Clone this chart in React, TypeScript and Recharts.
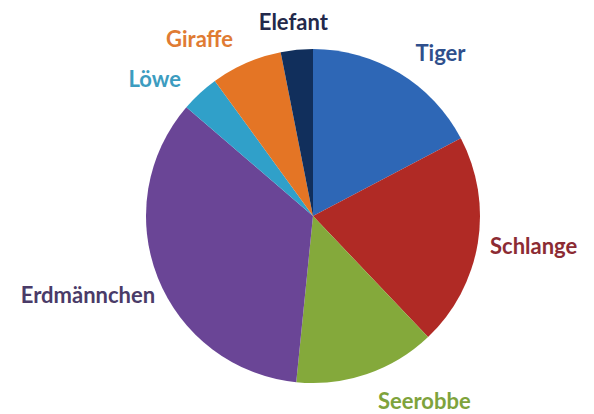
import { PieChart, Pie, Cell } from 'recharts';

const tiere = ['Tiger', 'Schlange', 'Seerobbe', 'Erdmännchen', 'Löwe', 'Giraffe', 'Elefant'];
const anteile = [17.3, 20.6, 13.7, 34.7, 3.7, 6.9, 3.1];
const farben = ['#2e67b6', '#b02a25', '#84a93b', '#6a4596', '#30a0c9', '#e47525', '#112f5c'];
const textFarben = ['#2f4f8c', '#8c2b33', '#7ea33c', '#4a3b68', '#3c9cc0', '#e07b33', '#23294b'];

const data = tiere.map((name, i) => ({ name, wert: anteile[i] }));

const RAD = Math.PI / 180;

function renderLabel(props: any) {
  const { cx, cy, midAngle, outerRadius, index, name } = props;
  const cos = Math.cos(-midAngle * RAD);
  const sin = Math.sin(-midAngle * RAD);
  const r = outerRadius + 8 + 27 * Math.abs(sin);
  const x = cx + r * cos - (cos < -0.9 ? -14 : 0);
  // kleine Korrekturen, damit die Beschriftungen wie im Original sitzen
  const y = cy + r * sin + (sin < 0 ? 6 : 0) + (cos < -0.9 ? 10 : 0) + (sin > 0.5 ? -5 : 0);
  const anchor = cos > 0.3 ? 'start' : cos < -0.3 ? 'end' : 'middle';
  return (
    <text
      x={x}
      y={y}
      textAnchor={anchor}
      dominantBaseline="central"
      fill={textFarben[index]}
      fontFamily="Lato, sans-serif"
      fontWeight="bold"
      fontSize={22}
    >
      {name}
    </text>
  );
}

export default function App() {
  return (
    <div style={{ position: 'absolute', left: 0, top: 0, width: 594, height: 414, background: '#fff' }}>
      <PieChart width={594} height={414} margin={{ top: 0, right: 0, bottom: 0, left: 0 }}>
        <Pie
          data={data}
          dataKey="wert"
          nameKey="name"
          cx={313}
          cy={216}
          outerRadius={167}
          startAngle={90}
          endAngle={-270}
          stroke="none"
          label={renderLabel}
          labelLine={false}
          isAnimationActive={false}
        >
          {data.map((d, i) => (
            <Cell key={d.name} fill={farben[i]} />
          ))}
        </Pie>
      </PieChart>
    </div>
  );
}
